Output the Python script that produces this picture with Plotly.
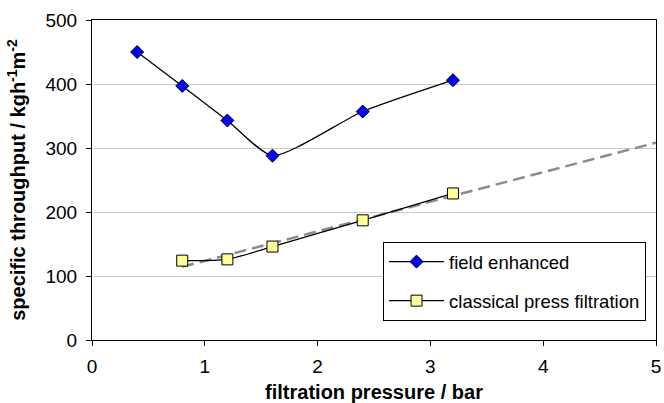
import numpy as np
import plotly.graph_objects as go

# data
x_field = [0.4, 0.8, 1.2, 1.6, 2.4, 3.2]
y_field = [450, 397, 343, 288, 357, 406]
x_classic = [0.8, 1.2, 1.6, 2.4, 3.2]
y_classic = [124, 126, 146, 187, 229]
trend_x_range = [0.8, 5.0]
x_ticks = [0, 1, 2, 3, 4, 5]
y_ticks = [0, 100, 200, 300, 400, 500]

slope, intercept = np.polyfit(x_classic, y_classic, 1)
tx = np.array(trend_x_range)
ty = slope * tx + intercept

fig = go.Figure()
fig.add_trace(go.Scatter(
    x=tx, y=ty, mode="lines", showlegend=False, hoverinfo="skip",
    line=dict(color="#8c8c8c", width=2.5, dash="12px,6px")))
fig.add_trace(go.Scatter(
    x=x_field, y=y_field, mode="lines+markers", name="field enhanced",
    legendgroup="a",
    line=dict(color="black", width=1.3, shape="spline", smoothing=0.6),
    marker=dict(symbol="diamond", size=10, color="#0000ff",
                line=dict(color="black", width=1))))
fig.add_trace(go.Scatter(
    x=x_classic, y=y_classic, mode="lines+markers", name="classical press filtration",
    legendgroup="b",
    line=dict(color="black", width=1.3, shape="spline", smoothing=0.6),
    marker=dict(symbol="square", size=11, color="#ffff99",
                line=dict(color="black", width=1))))

font = "Liberation Sans, Arial, sans-serif"
fig.update_layout(
    width=664, height=403,
    margin=dict(l=92, r=8, t=20, b=63),
    paper_bgcolor="white", plot_bgcolor="white",
    font=dict(family=font, size=19, color="black"),
    legend=dict(x=0.516, y=0.306, xanchor="left", yanchor="top",
                bordercolor="black", borderwidth=1, bgcolor="white",
                font=dict(size=18.5), traceorder="grouped", tracegroupgap=12,
                itemwidth=55),
    xaxis=dict(range=[0, 5], tickvals=x_ticks, showgrid=False, zeroline=False,
               showline=True, linecolor="black", linewidth=1, mirror=True,
               ticks="outside", ticklen=5, tickcolor="black", automargin=False,
               ticklabeloverflow="allow", ticklabelstandoff=4,
               title=dict(text="<b>filtration pressure / bar</b>", font=dict(size=20), standoff=12)),
    yaxis=dict(range=[0, 500], tickvals=y_ticks, showgrid=True, gridcolor="#c8c8c8",
               zeroline=False, showline=True, linecolor="black", linewidth=1, mirror=True,
               ticks="outside", ticklen=5, tickcolor="black", automargin=False,
               ticklabeloverflow="allow", ticklabelstandoff=5,
               title=dict(text="<b>specific throughput / kgh<sup>-1</sup>m<sup>-2</sup></b>",
                          font=dict(size=20), standoff=14)),
)
fig.write_html("out.html")
